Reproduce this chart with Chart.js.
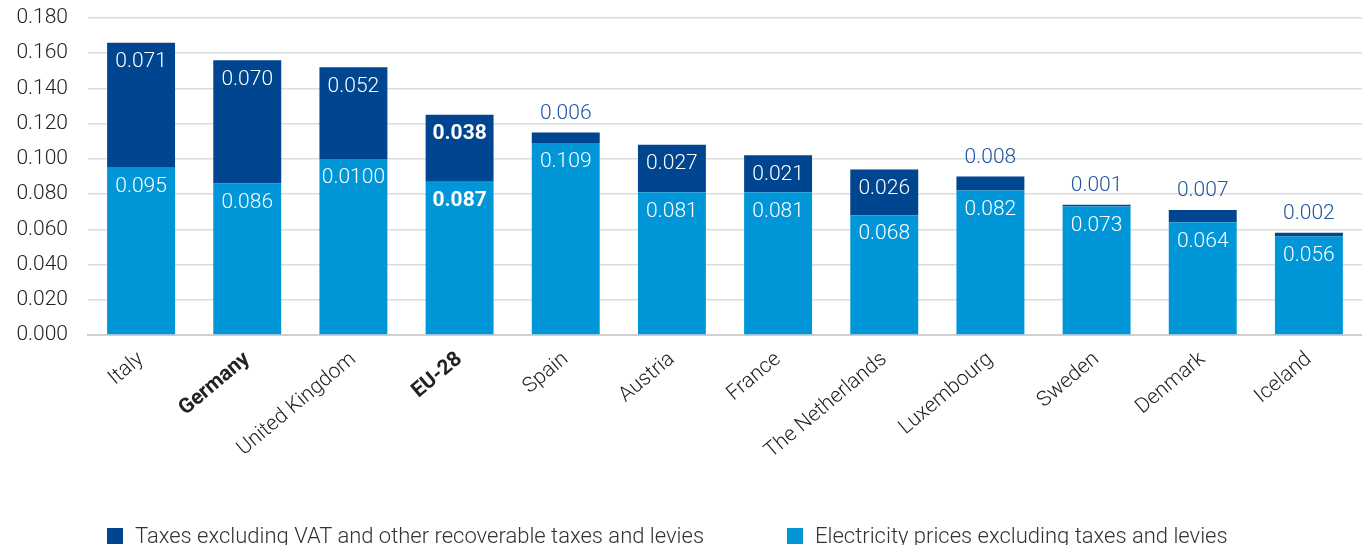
<!DOCTYPE html>
<html>
<head>
<meta charset="utf-8">
<script src="https://cdn.jsdelivr.net/npm/chart.js@4/dist/chart.umd.min.js"></script>
<style>
  html, body { margin: 0; padding: 0; background: #fff; overflow: hidden; }
  #wrap { position: relative; width: 1362px; height: 545px; }
  .legend { position: absolute; top: 523px; font: 300 22px "Roboto", "Liberation Sans", sans-serif; color: #333; white-space: nowrap; }
  .legend span { display: inline-block; width: 16px; height: 16px; margin-right: 12px; vertical-align: -1px; }
</style>
</head>
<body>
<div id="wrap">
  <canvas id="chart" width="1362" height="545"></canvas>
  <div class="legend" style="left:107px"><span style="background:#00458f"></span>Taxes excluding VAT and other recoverable taxes and levies</div>
  <div class="legend" style="left:787px"><span style="background:#0096d8"></span>Electricity prices excluding taxes and levies</div>
</div>
<script>
const countries = ['Italy', 'Germany', 'United Kingdom', 'EU-28', 'Spain', 'Austria', 'France',
  'The Netherlands', 'Luxembourg', 'Sweden', 'Denmark', 'Iceland'];
const boldTicks = ['Germany', 'EU-28'];
const boldValues = ['EU-28'];

const electricity = [0.095, 0.086, 0.100, 0.087, 0.109, 0.081, 0.081, 0.068, 0.082, 0.073, 0.064, 0.056];
const electricityLabels = ['0.095', '0.086', '0.0100', '0.087', '0.109', '0.081', '0.081', '0.068', '0.082', '0.073', '0.064', '0.056'];

const taxes = [0.071, 0.070, 0.052, 0.038, 0.006, 0.027, 0.021, 0.026, 0.008, 0.001, 0.007, 0.002];
const taxLabels = ['0.071', '0.070', '0.052', '0.038', '0.006', '0.027', '0.021', '0.026', '0.008', '0.001', '0.007', '0.002'];

const yTicks = [0, 0.02, 0.04, 0.06, 0.08, 0.10, 0.12, 0.14, 0.16, 0.18];

const FONT = '"Roboto", "Liberation Sans", sans-serif';
const DARK = '#00458f';
const LIGHT = '#0096d8';

// draws the value labels on / above each segment
const valueLabels = {
  id: 'valueLabels',
  afterDatasetsDraw(chart) {
    const ctx = chart.ctx;
    ctx.save();
    ctx.textAlign = 'center';
    ctx.textBaseline = 'middle';
    chart.data.datasets.forEach((ds, i) => {
      const meta = chart.getDatasetMeta(i);
      meta.data.forEach((bar, j) => {
        const bold = boldValues.includes(countries[j]);
        ctx.font = (bold ? '700 ' : '300 ') + '21px ' + FONT;
        const h = bar.base - bar.y;
        if (i === 1 && h < 30) {
          ctx.fillStyle = '#1f56a0';
          ctx.fillText(ds.labelText[j], bar.x, bar.y - 19);
        } else {
          ctx.fillStyle = '#ffffff';
          ctx.fillText(ds.labelText[j], bar.x, bar.y + 19);
        }
      });
    });
    ctx.restore();
  }
};

new Chart(document.getElementById('chart'), {
  type: 'bar',
  data: {
    labels: countries,
    datasets: [
      { label: 'Electricity prices excluding taxes and levies', data: electricity, labelText: electricityLabels,
        backgroundColor: LIGHT, stack: 's' },
      { label: 'Taxes excluding VAT and other recoverable taxes and levies', data: taxes, labelText: taxLabels,
        backgroundColor: DARK, stack: 's' }
    ]
  },
  options: {
    responsive: false,
    animation: false,
    categoryPercentage: 1,
    barPercentage: 0.64,
    layout: { padding: { top: 18, left: 12, right: 0, bottom: 0 } },
    plugins: { legend: { display: false }, tooltip: { enabled: false } },
    scales: {
      x: {
        stacked: true,
        grid: { display: false },
        border: { display: true, color: '#cfcfcf', width: 2 },
        ticks: {
          color: '#222',
          minRotation: 40,
          maxRotation: 40,
          padding: 4,
          font: (c) => ({ family: FONT, size: 21, weight: boldTicks.includes(countries[c.index]) ? '700' : '300' })
        },
        afterFit: (s) => { s.height = 210; }
      },
      y: {
        stacked: true,
        min: 0,
        max: 0.18,
        afterBuildTicks: (s) => { s.ticks = yTicks.map(v => ({ value: v })); },
        grid: { color: '#dcdcdc', lineWidth: 1.5, drawTicks: false },
        border: { display: false },
        ticks: {
          color: '#222',
          padding: 20,
          font: { family: FONT, size: 21, weight: '300' },
          callback: (v) => v.toFixed(3)
        },
        afterFit: (s) => { s.width = 76; s.paddingTop = 0; s.paddingBottom = 0; }
      }
    }
  },
  plugins: [valueLabels]
});
</script>
</body>
</html>
